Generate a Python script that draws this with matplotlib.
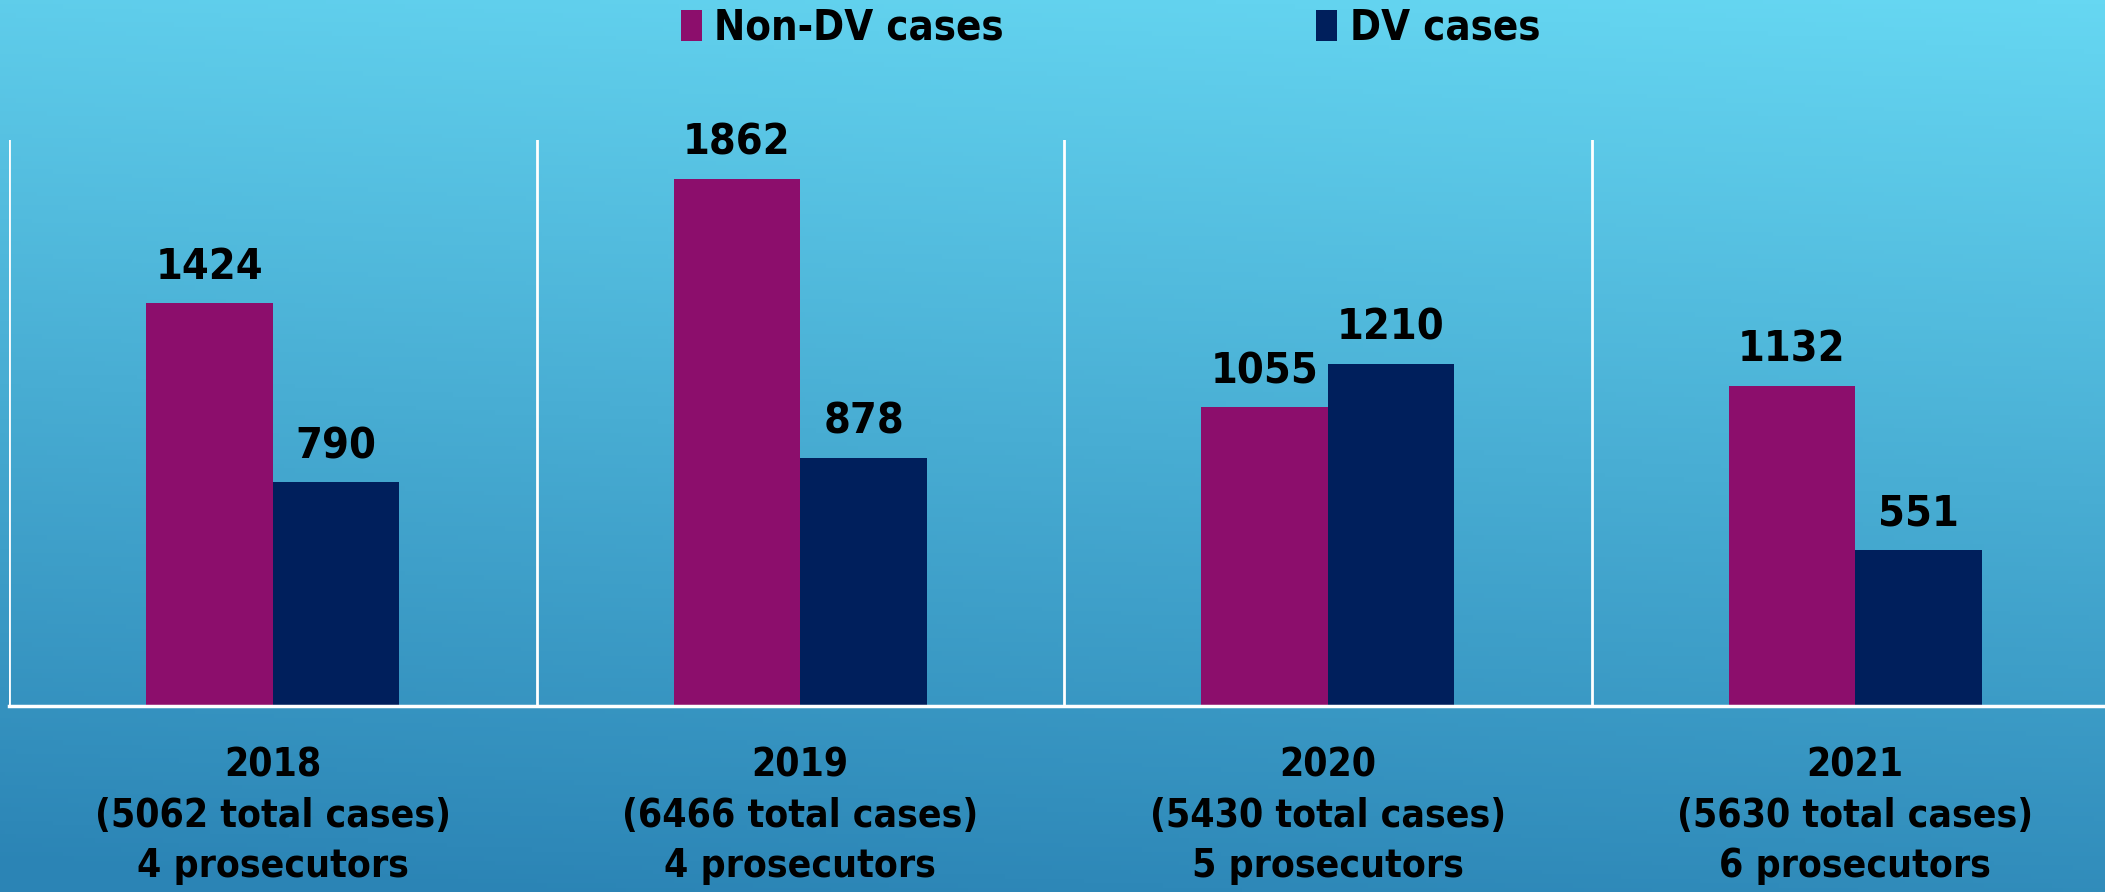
import numpy as np
import matplotlib
matplotlib.use("Agg")
import matplotlib.pyplot as plt
from matplotlib.colors import LinearSegmentedColormap

years = ["2018", "2019", "2020", "2021"]
total_cases = [5062, 6466, 5430, 5630]
prosecutors = [4, 4, 5, 6]
non_dv = [1424, 1862, 1055, 1132]
dv = [790, 878, 1210, 551]
series_names = ["Non-DV cases", "DV cases"]
colors = ["#8C0E6C", "#001F5C"]

FONT = ["DejaVu Sans"]
plt.rcParams["font.family"] = FONT
plt.rcParams["font.weight"] = "bold"
plt.rcParams["font.stretch"] = "condensed"

W, H = 2105, 892
fig = plt.figure(figsize=(W / 100, H / 100), dpi=100)

# background gradient (slightly diagonal)
bg = fig.add_axes([0, 0, 1, 1], zorder=-10)
yy, xx = np.mgrid[0:1:200j, 0:1:400j]
t = np.clip(yy * 0.9 + (1 - xx) * 0.12, 0, 1)
cmap = LinearSegmentedColormap.from_list("bg", ["#66D7F2", "#2B84B5"])
bg.imshow(t, cmap=cmap, aspect="auto", extent=[0, 1, 0, 1], origin="upper")
bg.axis("off")

# main axes: left 9px, top 140px, bottom 706px, category width ~527.5px
left_px, top_px, bot_px, cat_px = 9, 140, 706, 527.5
ax = fig.add_axes([left_px / W, 1 - bot_px / H, 4 * cat_px / W, (bot_px - top_px) / H])
ax.patch.set_alpha(0)

x = np.arange(len(years))
bw = 0.24
b1 = ax.bar(x - bw / 2, non_dv, bw, color=colors[0], label=series_names[0])
b2 = ax.bar(x + bw / 2, dv, bw, color=colors[1], label=series_names[1])
ax.set_xlim(-0.5, len(years) - 0.5)
ax.set_ylim(0, 2000)

for bars, vals in ((b1, non_dv), (b2, dv)):
    for r, v in zip(bars, vals):
        ax.annotate(f"{v}", (r.get_x() + r.get_width() / 2, v), xytext=(0, 11),
                    textcoords="offset points", ha="center", va="bottom",
                    fontsize=31, fontweight="bold", fontstretch="condensed",
                    color="black", family=FONT)

# category separators
for b in np.arange(-0.5, len(years) - 0.5, 1.0):
    ax.axvline(b, color="white", lw=2)

for s in ["top", "right", "left"]:
    ax.spines[s].set_visible(False)
ax.spines["bottom"].set_color("white")
ax.spines["bottom"].set_linewidth(2.5)
ax.set_yticks([])
ax.set_xticks(x)
ax.set_xticklabels([f"{y}\n({t} total cases)\n{p} prosecutors" for y, t, p in zip(years, total_cases, prosecutors)],
                   fontsize=28, fontweight="bold", fontstretch="condensed",
                   linespacing=1.42, family=FONT)
ax.tick_params(axis="x", length=0, pad=29)

leg = fig.legend(handles=[b1, b2], labels=series_names, loc="center left",
                 bbox_to_anchor=(681 / W, 1 - 28 / H), ncol=2, frameon=False,
                 prop={"family": FONT, "weight": "bold", "size": 30, "stretch": "condensed"},
                 handlelength=0.5, handleheight=0.75, handletextpad=0.3,
                 columnspacing=7.5, borderpad=0, borderaxespad=0)

fig.savefig("out.png", dpi=100)
